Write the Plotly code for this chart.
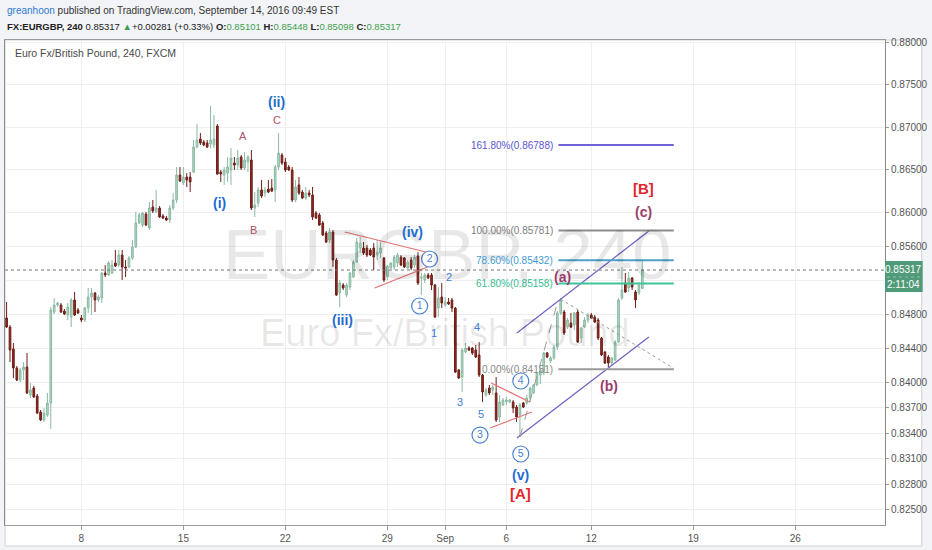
import pandas as pd
import plotly.graph_objects as go

# ---------------- data (EURGBP 4H candles) ----------------
opens = [
    0.84753, 0.84647, 0.84388, 0.84165, 0.84023, 0.84141, 0.84176, 0.83847, 0.83929, 0.83835,
    0.83646, 0.83553, 0.83611, 0.83753, 0.84823, 0.84906, 0.84906, 0.84835, 0.84788, 0.84764,
    0.84965, 0.84847, 0.84753, 0.84729, 0.84871, 0.85000, 0.85047, 0.84965, 0.84988, 0.85282,
    0.85259, 0.85282, 0.85400, 0.85376, 0.85494, 0.85353, 0.85353, 0.85459, 0.85588, 0.85870,
    0.85847, 0.85976, 0.85812, 0.86058, 0.86000, 0.86047, 0.85953, 0.85929, 0.85906, 0.86047,
    0.86141, 0.86435, 0.86341, 0.86411, 0.86411, 0.86470, 0.86764, 0.86859, 0.86823, 0.86812,
    0.86800, 0.86788, 0.87012, 0.86470, 0.86435, 0.86458, 0.86494, 0.86576, 0.86553, 0.86647,
    0.86517, 0.86588, 0.86612, 0.86047, 0.86105, 0.86259, 0.86223, 0.86270, 0.86282, 0.86259,
    0.86529, 0.86670, 0.86588, 0.86529, 0.86494, 0.86141, 0.86318, 0.86235, 0.86164, 0.86223,
    0.86200, 0.85988, 0.85965, 0.85870, 0.85753, 0.85670, 0.85764, 0.85435, 0.85047, 0.85141,
    0.85023, 0.85117, 0.85235, 0.85411, 0.85576, 0.85576, 0.85576, 0.85553, 0.85576, 0.85494,
    0.85517, 0.85459, 0.85235, 0.85341, 0.85353, 0.85400, 0.85470, 0.85459, 0.85341, 0.85435,
    0.85376, 0.85482, 0.85223, 0.85200, 0.85259, 0.85259, 0.85141, 0.84870, 0.85000, 0.84906,
    0.84941, 0.84965, 0.84870, 0.84141, 0.84058, 0.84353, 0.84400, 0.84400, 0.84376, 0.84318,
    0.84082, 0.83847, 0.83929, 0.83906, 0.83871, 0.83588, 0.83729, 0.83765, 0.83765, 0.83765,
    0.83706, 0.83611, 0.83753, 0.83753, 0.83812, 0.83871, 0.83965, 0.84082, 0.84106, 0.84341,
    0.84247, 0.84282, 0.84411, 0.84812, 0.84823, 0.84647, 0.84694, 0.84670, 0.84823, 0.84517,
    0.84647, 0.84729, 0.84788, 0.84764, 0.84729, 0.84517, 0.84353, 0.84294, 0.84223, 0.84259,
    0.84470, 0.84988, 0.85164, 0.85106, 0.85223, 0.85059, 0.85047, 0.85101,
]
highs = [
    0.84941, 0.84670, 0.84459, 0.84188, 0.84165, 0.84235, 0.84341, 0.83988, 0.83953, 0.83859,
    0.83670, 0.83694, 0.83871, 0.84882, 0.84988, 0.84941, 0.84929, 0.84859, 0.84929, 0.84988,
    0.85059, 0.84871, 0.84788, 0.84882, 0.85106, 0.85106, 0.85059, 0.85023, 0.85294, 0.85376,
    0.85423, 0.85435, 0.85553, 0.85553, 0.85553, 0.85435, 0.85482, 0.85670, 0.86000, 0.85988,
    0.86000, 0.86000, 0.86117, 0.86141, 0.86259, 0.86070, 0.85976, 0.85953, 0.86082, 0.86223,
    0.86529, 0.86529, 0.86529, 0.86458, 0.86470, 0.86847, 0.87035, 0.86929, 0.86847, 0.86847,
    0.87247, 0.87141, 0.87035, 0.86494, 0.86529, 0.86647, 0.86753, 0.86647, 0.86729, 0.86670,
    0.86706, 0.86670, 0.86729, 0.86235, 0.86294, 0.86376, 0.86294, 0.86376, 0.86388, 0.86553,
    0.86929, 0.86694, 0.86635, 0.86553, 0.86529, 0.86376, 0.86411, 0.86259, 0.86294, 0.86259,
    0.86294, 0.86011, 0.85988, 0.85894, 0.85776, 0.85812, 0.85788, 0.85459, 0.85200, 0.85164,
    0.85164, 0.85294, 0.85435, 0.85694, 0.85706, 0.85647, 0.85612, 0.85576, 0.85635, 0.85670,
    0.85647, 0.85470, 0.85376, 0.85411, 0.85494, 0.85517, 0.85494, 0.85470, 0.85435, 0.85470,
    0.85494, 0.85529, 0.85282, 0.85282, 0.85282, 0.85282, 0.85153, 0.85117, 0.85164, 0.85000,
    0.84988, 0.84988, 0.84882, 0.84153, 0.84400, 0.84459, 0.84423, 0.84411, 0.84435, 0.84470,
    0.84094, 0.83929, 0.83965, 0.83965, 0.84058, 0.83847, 0.83812, 0.83824, 0.83800, 0.83788,
    0.83729, 0.83753, 0.83765, 0.83847, 0.83941, 0.83976, 0.84117, 0.84153, 0.84353, 0.84353,
    0.84306, 0.84435, 0.84835, 0.84988, 0.84847, 0.84753, 0.84812, 0.84823, 0.84847, 0.84647,
    0.84764, 0.84812, 0.84812, 0.84788, 0.84753, 0.84529, 0.84364, 0.84318, 0.84294, 0.84494,
    0.84988, 0.85353, 0.85282, 0.85294, 0.85235, 0.85082, 0.85176, 0.85448,
]
lows = [
    0.84635, 0.84235, 0.84047, 0.84011, 0.83999, 0.84023, 0.83859, 0.83812, 0.83812, 0.83623,
    0.83541, 0.83529, 0.83588, 0.83447, 0.84800, 0.84882, 0.84812, 0.84788, 0.84729, 0.84647,
    0.84776, 0.84800, 0.84705, 0.84705, 0.84812, 0.84788, 0.84823, 0.84941, 0.84929, 0.85235,
    0.85247, 0.85270, 0.85353, 0.85353, 0.85200, 0.85235, 0.85341, 0.85435, 0.85576, 0.85859,
    0.85823, 0.85835, 0.85788, 0.85988, 0.85988, 0.85929, 0.85917, 0.85894, 0.85870, 0.86023,
    0.86105, 0.86353, 0.86318, 0.86294, 0.86235, 0.86458, 0.86753, 0.86788, 0.86776, 0.86753,
    0.86753, 0.86753, 0.86435, 0.86353, 0.86318, 0.86353, 0.86318, 0.86494, 0.86494, 0.86494,
    0.86494, 0.86470, 0.86023, 0.85941, 0.86058, 0.86164, 0.86176, 0.86223, 0.86235, 0.86117,
    0.86494, 0.86553, 0.86470, 0.86482, 0.86117, 0.86117, 0.86200, 0.86153, 0.86141, 0.86176,
    0.85906, 0.85917, 0.85835, 0.85717, 0.85635, 0.85635, 0.85353, 0.85011, 0.84882, 0.85082,
    0.85000, 0.85082, 0.85223, 0.85400, 0.85517, 0.85494, 0.85470, 0.85482, 0.85317, 0.85435,
    0.85459, 0.85176, 0.85200, 0.85329, 0.85317, 0.85353, 0.85364, 0.85341, 0.85329, 0.85317,
    0.85341, 0.85141, 0.85023, 0.85164, 0.85211, 0.85082, 0.84753, 0.84764, 0.84870, 0.84882,
    0.84906, 0.84823, 0.84106, 0.84035, 0.83882, 0.84341, 0.84364, 0.84318, 0.84282, 0.84058,
    0.83765, 0.83824, 0.83847, 0.83847, 0.83529, 0.83529, 0.83717, 0.83729, 0.83753, 0.83635,
    0.83529, 0.83353, 0.83694, 0.83729, 0.83765, 0.83859, 0.83953, 0.83976, 0.84082, 0.84282,
    0.84223, 0.84259, 0.84376, 0.84788, 0.84553, 0.84623, 0.84635, 0.84612, 0.84459, 0.84459,
    0.84635, 0.84694, 0.84741, 0.84694, 0.84494, 0.84306, 0.84212, 0.84176, 0.84200, 0.84247,
    0.84459, 0.84965, 0.85047, 0.85059, 0.85082, 0.84870, 0.85023, 0.85098,
]
closes = [
    0.84647, 0.84376, 0.84165, 0.84023, 0.84141, 0.84176, 0.83871, 0.83906, 0.83824, 0.83635,
    0.83553, 0.83635, 0.83753, 0.84847, 0.84906, 0.84929, 0.84823, 0.84800, 0.84882, 0.84965,
    0.84788, 0.84812, 0.84729, 0.84871, 0.85000, 0.85047, 0.84965, 0.85000, 0.85282, 0.85259,
    0.85400, 0.85376, 0.85364, 0.85494, 0.85353, 0.85341, 0.85459, 0.85588, 0.85870, 0.85965,
    0.85988, 0.85847, 0.86047, 0.86011, 0.86047, 0.85941, 0.85929, 0.85906, 0.86047, 0.86141,
    0.86435, 0.86364, 0.86411, 0.86376, 0.86353, 0.86764, 0.86847, 0.86812, 0.86788, 0.86764,
    0.86847, 0.86859, 0.86447, 0.86447, 0.86494, 0.86529, 0.86635, 0.86553, 0.86635, 0.86517,
    0.86612, 0.86647, 0.86047, 0.86082, 0.86259, 0.86188, 0.86259, 0.86235, 0.86247, 0.86529,
    0.86694, 0.86576, 0.86494, 0.86494, 0.86141, 0.86294, 0.86223, 0.86164, 0.86223, 0.86200,
    0.85941, 0.85929, 0.85847, 0.85729, 0.85647, 0.85764, 0.85435, 0.85023, 0.85164, 0.85106,
    0.85141, 0.85282, 0.85411, 0.85647, 0.85635, 0.85517, 0.85494, 0.85494, 0.85470, 0.85529,
    0.85576, 0.85200, 0.85364, 0.85400, 0.85470, 0.85494, 0.85376, 0.85353, 0.85411, 0.85341,
    0.85470, 0.85164, 0.85235, 0.85259, 0.85223, 0.85141, 0.84764, 0.84988, 0.84929, 0.84941,
    0.84917, 0.84870, 0.84117, 0.84047, 0.84376, 0.84400, 0.84376, 0.84341, 0.84294, 0.84082,
    0.83882, 0.83906, 0.83871, 0.83941, 0.83553, 0.83765, 0.83788, 0.83788, 0.83788, 0.83694,
    0.83588, 0.83729, 0.83706, 0.83812, 0.83929, 0.83965, 0.84106, 0.84141, 0.84341, 0.84294,
    0.84282, 0.84411, 0.84812, 0.84965, 0.84576, 0.84729, 0.84647, 0.84812, 0.84470, 0.84635,
    0.84729, 0.84788, 0.84753, 0.84705, 0.84517, 0.84318, 0.84223, 0.84223, 0.84282, 0.84470,
    0.84965, 0.85082, 0.85059, 0.85223, 0.85117, 0.84965, 0.85141, 0.85317,
]

last_bar = pd.Timestamp("2016-09-14 12:00")
_days = pd.bdate_range("2016-07-25", "2016-09-14")
_stamps = [d + pd.Timedelta(hours=h) for d in _days for h in range(0, 24, 4)]
_stamps = [s for s in _stamps if s <= last_bar]
times = _stamps[-len(opens):]

x_tickvals = ["2016-08-08", "2016-08-15", "2016-08-22", "2016-08-29", "2016-08-31 20:00",
              "2016-09-05 20:00", "2016-09-12", "2016-09-19", "2016-09-26"]
x_ticktext = ["8", "15", "22", "29", "Sep", "6", "12", "19", "26"]
y_tickvals = [0.880, 0.875, 0.870, 0.865, 0.860, 0.856, 0.852, 0.848, 0.844, 0.840,
              0.837, 0.834, 0.831, 0.828, 0.825]
y_ticktext = ["%.5f" % v if v != 0.852 else "" for v in y_tickvals]

last_price = 0.85317

# Fibonacci levels (label, price)
fib_labels = ["161.80%", "100.00%", "78.60%", "61.80%", "0.00%"]
fib_prices = [0.86788, 0.85781, 0.85432, 0.85158, 0.84151]

# Elliott wave labels
wave_text = ["(i)", "(ii)", "(iii)", "(iv)", "(v)"]
wave_x = ["2016-08-16 18:00", "2016-08-19 14:00", "2016-08-24 19:00", "2016-08-30 06:00", "2016-09-06 13:00"]
wave_y = [0.86106, 0.87294, 0.84729, 0.85765, 0.82906]

abc_text = ["A", "B", "C"]
abc_x = ["2016-08-17 22:00", "2016-08-18 10:00", "2016-08-19 14:00"]
abc_y = [0.86894, 0.85788, 0.87082]

sub_text = ["1", "2", "3", "4", "5"]
sub_x = ["2016-08-31 06:30", "2016-09-01 01:00", "2016-09-01 14:00", "2016-09-02 10:00", "2016-09-02 14:30"]
sub_y = [0.84576, 0.85235, 0.83765, 0.84647, 0.83623]

circ_text = ["1", "2", "3", "4", "5"]
circ_x = ["2016-08-30 14:00", "2016-08-31 01:40", "2016-09-02 13:00", "2016-09-06 13:00", "2016-09-06 13:00"]
circ_y = [0.84894, 0.85447, 0.83376, 0.84012, 0.83153]

minor_text = ["(a)", "(b)", "(c)"]
minor_x = ["2016-09-08 14:00", "2016-09-12 21:00", "2016-09-14 13:30"]
minor_y = [0.85235, 0.83953, 0.86000]

big_text = ["[A]", "[B]"]
big_x = ["2016-09-06 13:00", "2016-09-14 13:30"]
big_y = [0.82694, 0.86282]

# ---------------- styling ----------------
FONT = "Liberation Sans, Arial, sans-serif"
L, R, T, B = 4, 891, 40, 525
W, H = 932, 550


def px(x):
    return (x - L) / (R - L)


def py(y):
    return (B - y) / (B - T)


fig = go.Figure()

fig.add_trace(go.Candlestick(
    x=times, open=opens, high=highs, low=lows, close=closes,
    increasing=dict(line=dict(color="#8bb9a2", width=1), fillcolor="#acdac4"),
    decreasing=dict(line=dict(color="#6d1e18", width=1), fillcolor="#922a20"),
    whiskerwidth=0, showlegend=False, hoverinfo="skip",
))

fig.add_trace(go.Scatter(
    x=circ_x, y=circ_y, mode="markers+text", text=circ_text,
    marker=dict(symbol="circle", size=16, color="rgba(255,255,255,0.9)",
                line=dict(color="#4a82d6", width=1.2)),
    textfont=dict(family=FONT, size=10.5, color="#4a82d6"),
    textposition="middle center", showlegend=False, hoverinfo="skip",
))

shapes = []
# outer white widget box
shapes.append(dict(type="rect", xref="paper", yref="paper", x0=px(4), x1=px(928), y0=py(546), y1=py(40),
                   fillcolor="white", line=dict(color="#cfd2d6", width=1), layer="below"))

# trend lines
lines = [
    ("2016-08-24 22:00", 0.85765, "2016-08-30 21:20", 0.85529, "#e57373", 1.2, "solid"),
    ("2016-08-26 09:00", 0.85106, "2016-08-30 23:20", 0.85353, "#e57373", 1.2, "solid"),
    ("2016-09-05 02:10", 0.83988, "2016-09-06 23:30", 0.83765, "#e57373", 1.2, "solid"),
    ("2016-09-05 01:00", 0.83459, "2016-09-07 02:00", 0.83647, "#e57373", 1.2, "solid"),
    ("2016-09-06 08:25", 0.84576, "2016-09-14 19:40", 0.85776, "#6e5fc8", 1.2, "solid"),
    ("2016-09-06 08:25", 0.83341, "2016-09-14 19:40", 0.84529, "#6e5fc8", 1.2, "solid"),
    ("2016-09-06 12:00", 0.83353, "2016-09-08 09:20", 0.84976, "#9a9a9a", 1, "dash"),
    ("2016-09-08 11:45", 0.84976, "2016-09-16 01:00", 0.84160, "#9a9a9a", 1, "dot"),
]
for x0, y0, x1, y1, c, w, d in lines:
    shapes.append(dict(type="line", xref="x", yref="y", x0=x0, y0=y0, x1=x1, y1=y1,
                       line=dict(color=c, width=w, dash=d)))

fib_line_colors = ["#6f63d6", "#8c8c8c", "#4aa0c6", "#3fc39b", "#9a9a9a"]
fib_text_colors = ["#5a55d2", "#7d7d7d", "#3f9bd3", "#37bb93", "#8a8a8a"]
fib_x0, fib_x1 = "2016-09-08 09:20", "2016-09-16 01:00"
for p, c in zip(fib_prices, fib_line_colors):
    shapes.append(dict(type="line", xref="x", yref="y", x0=fib_x0, x1=fib_x1, y0=p, y1=p,
                       line=dict(color=c, width=2)))

# last price dotted line
shapes.append(dict(type="line", xref="paper", yref="y", x0=0, x1=1, y0=last_price, y1=last_price,
                   line=dict(color="#777777", width=1, dash="dot")))
# last price box on the axis
shapes.append(dict(type="rect", xref="paper", yref="paper", x0=px(891), x1=px(929), y0=py(292), y1=py(261),
                   fillcolor="#4f9a78", line=dict(color="#4f9a78", width=0), layer="above"))
shapes.append(dict(type="line", xref="paper", yref="paper", x0=px(893), x1=px(927), y0=py(277), y1=py(277),
                   line=dict(color="#8fc4aa", width=1, dash="dot"), layer="above"))

ann = []
# header
ann.append(dict(xref="paper", yref="paper", x=px(4), y=py(10), xanchor="left", yanchor="middle",
                text="<span style='color:#2b7bd0'>greanhoon</span> published on TradingView.com, September 14, 2016 09:49 EST",
                showarrow=False, font=dict(family=FONT, size=10, color="#333333")))
G = "#3f9f4f"
ann.append(dict(xref="paper", yref="paper", x=px(4), y=py(26), xanchor="left", yanchor="middle",
                text=("<b>FX:EURGBP, 240</b> 0.85317 <span style='color:%s'>▲</span>+0.00281 (+0.33%%) "
                      "<b>O:</b><span style='color:%s'>0.85101</span> <b>H:</b><span style='color:%s'>0.85448</span> "
                      "<b>L:</b><span style='color:%s'>0.85098</span> <b>C:</b><span style='color:%s'>0.85317</span>")
                % (G, G, G, G, G),
                showarrow=False, font=dict(family=FONT, size=9.5, color="#222222")))
ann.append(dict(xref="paper", yref="paper", x=px(12), y=py(53), xanchor="left", yanchor="middle",
                text="Euro Fx/British Pound, 240, FXCM", showarrow=False,
                font=dict(family=FONT, size=10.5, color="#4a4a4a")))
# watermark
ann.append(dict(xref="paper", yref="paper", x=px(450), y=py(254), xanchor="center", yanchor="middle",
                text="EURGBP, 240", showarrow=False,
                font=dict(family=FONT, size=71, color="rgba(0,0,0,0.09)")))
ann.append(dict(xref="paper", yref="paper", x=px(448), y=py(333), xanchor="center", yanchor="middle",
                text="Euro Fx/British Pound", showarrow=False,
                font=dict(family=FONT, size=38, color="rgba(0,0,0,0.09)")))
# price box text
ann.append(dict(xref="paper", yref="paper", x=px(910), y=py(269), xanchor="center", yanchor="middle",
                text="0.85317", showarrow=False, font=dict(family=FONT, size=10, color="white")))
ann.append(dict(xref="paper", yref="paper", x=px(910), y=py(284), xanchor="center", yanchor="middle",
                text="2:11:04", showarrow=False, font=dict(family=FONT, size=10, color="white")))

# fib labels
for lab, p, c in zip(fib_labels, fib_prices, fib_text_colors):
    ann.append(dict(xref="x", yref="y", x=fib_x0, y=p, xanchor="right", yanchor="middle", xshift=-3,
                    text="%s(%.5f)" % (lab, p), showarrow=False,
                    font=dict(family=FONT, size=10, color=c)))


def add_labels(texts, xs, ys, color, size, bold):
    for t, x, y in zip(texts, xs, ys):
        ann.append(dict(xref="x", yref="y", x=x, y=y, xanchor="center", yanchor="middle",
                        text=("<b>%s</b>" % t) if bold else t, showarrow=False,
                        font=dict(family=FONT, size=size, color=color)))


add_labels(wave_text, wave_x, wave_y, "#1f6cd0", 14, True)
add_labels(abc_text, abc_x, abc_y, "#b0506a", 11, False)
add_labels(sub_text, sub_x, sub_y, "#3f7dd8", 11, False)
add_labels(minor_text, minor_x, minor_y, "#9c3d6c", 14, True)
add_labels(big_text, big_x, big_y, "#e3262b", 15, True)

fig.update_layout(
    width=W, height=H,
    margin=dict(l=L, r=W - R, t=T, b=H - B, pad=0),
    paper_bgcolor="#f2f4f7", plot_bgcolor="white",
    showlegend=False,
    shapes=shapes, annotations=ann,
    xaxis=dict(
        type="date", range=["2016-08-02 06:07", "2016-09-30 09:32"],
        rangebreaks=[dict(bounds=["sat", "mon"])],
        rangeslider=dict(visible=False),
        tickmode="array", tickvals=x_tickvals, ticktext=x_ticktext,
        ticks="outside", ticklen=4, tickcolor="#999999",
        tickfont=dict(family=FONT, size=10, color="#555555"),
        showgrid=True, gridcolor="#efefef", gridwidth=1,
        showline=True, linecolor="#9a9a9a", linewidth=1, mirror=True, zeroline=False,
    ),
    yaxis=dict(
        side="right", range=[0.823176, 0.880235],
        tickmode="array", tickvals=y_tickvals, ticktext=y_ticktext,
        ticks="outside", ticklen=3, tickcolor="#999999",
        tickfont=dict(family=FONT, size=10, color="#555555"),
        showgrid=True, gridcolor="#efefef", gridwidth=1,
        showline=True, linecolor="#8a8a8a", linewidth=1, mirror=True, zeroline=False,
    ),
)

fig.write_html("out.html", config={"displayModeBar": False},
               post_script="document.body.style.margin='0px';document.body.style.overflow='hidden';")
